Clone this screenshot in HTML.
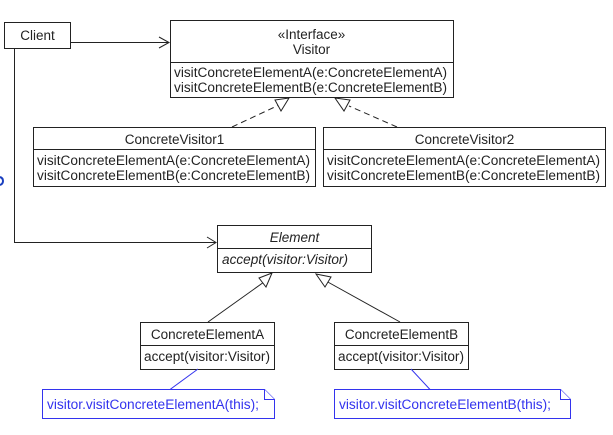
<!DOCTYPE html>
<html><head><meta charset="utf-8"><style>
html,body{margin:0;padding:0;background:#fff;width:613px;height:435px;overflow:hidden}
svg text{font-family:"Liberation Sans",sans-serif;font-size:13.5px;fill:#222}
</style></head><body>
<svg width="613" height="435" viewBox="0 0 613 435" xmlns="http://www.w3.org/2000/svg">
<g fill="#fff" stroke="#222" stroke-width="1">
<rect x="4.5" y="22.5" width="66" height="26"/>
<rect x="170.5" y="20.5" width="283" height="77"/>
<line x1="170" y1="62.5" x2="453" y2="62.5"/>
<rect x="33.5" y="127.5" width="282" height="59"/>
<line x1="33" y1="149.5" x2="315" y2="149.5"/>
<rect x="323.5" y="127.5" width="282" height="59"/>
<line x1="323" y1="149.5" x2="605" y2="149.5"/>
<rect x="217.5" y="225.5" width="154" height="47"/>
<line x1="217" y1="248.5" x2="371" y2="248.5"/>
<rect x="140.5" y="322.5" width="134" height="47"/>
<line x1="140" y1="345.5" x2="274" y2="345.5"/>
<rect x="334.5" y="322.5" width="134" height="47"/>
<line x1="334" y1="345.5" x2="468" y2="345.5"/>
</g>
<g fill="none" stroke="#222" stroke-width="1">
<polyline points="70,42.5 169,42.5"/>
<polyline points="159,37 169,42.5 159,48"/>
<polyline points="14.5,49 14.5,242.5 216,242.5"/>
<polyline points="207,237 216,242.5 207,248"/>
<line x1="232" y1="127" x2="279" y2="105" stroke-dasharray="6,4"/>
<polygon points="289,98 275,100 281,111" fill="#fff"/>
<line x1="397" y1="127" x2="349" y2="106" stroke-dasharray="6,4"/>
<polygon points="335,98 350,100 344,111" fill="#fff"/>
<line x1="208" y1="322" x2="264" y2="282"/>
<polygon points="272,273 259,278 266,287" fill="#fff"/>
<line x1="400" y1="322" x2="326" y2="281"/>
<polygon points="316,274 331,277 325,287" fill="#fff"/>
</g>
<g fill="#fff" stroke="#3333ee" stroke-width="1">
<line x1="198" y1="369" x2="170" y2="389.5"/>
<line x1="411" y1="369" x2="430" y2="389.5"/>
<polygon points="42.5,389.5 264.5,389.5 274.5,399.5 274.5,418.5 42.5,418.5"/>
<polyline points="264.5,389.5 264.5,399.5 274.5,399.5"/>
<polygon points="334.5,389.5 560.5,389.5 570.5,399.5 570.5,418.5 334.5,418.5"/>
<polyline points="560.5,389.5 560.5,399.5 570.5,399.5"/>
</g>
<path d="M0,177 Q3,178 3,181 Q3,184 0,185" fill="none" stroke="#1a3fbf" stroke-width="2"/>
<text x="37.5" y="40" text-anchor="middle">Client</text>
<text x="311.5" y="39" text-anchor="middle">«Interface»</text>
<text x="311.5" y="54" text-anchor="middle">Visitor</text>
<text x="174" y="77" textLength="273" lengthAdjust="spacingAndGlyphs">visitConcreteElementA(e:ConcreteElementA)</text>
<text x="174" y="92" textLength="273" lengthAdjust="spacingAndGlyphs">visitConcreteElementB(e:ConcreteElementB)</text>
<text x="174.5" y="144" text-anchor="middle">ConcreteVisitor1</text>
<text x="37" y="165" textLength="273" lengthAdjust="spacingAndGlyphs">visitConcreteElementA(e:ConcreteElementA)</text>
<text x="37" y="180" textLength="273" lengthAdjust="spacingAndGlyphs">visitConcreteElementB(e:ConcreteElementB)</text>
<text x="464.5" y="144" text-anchor="middle">ConcreteVisitor2</text>
<text x="327" y="165" textLength="273" lengthAdjust="spacingAndGlyphs">visitConcreteElementA(e:ConcreteElementA)</text>
<text x="327" y="180" textLength="273" lengthAdjust="spacingAndGlyphs">visitConcreteElementB(e:ConcreteElementB)</text>
<text x="294.5" y="242" text-anchor="middle" font-style="italic">Element</text>
<text x="222" y="264" font-style="italic" textLength="126" lengthAdjust="spacingAndGlyphs">accept(visitor:Visitor)</text>
<text x="207.5" y="339" text-anchor="middle">ConcreteElementA</text>
<text x="144" y="361" textLength="126" lengthAdjust="spacingAndGlyphs">accept(visitor:Visitor)</text>
<text x="401.5" y="339" text-anchor="middle">ConcreteElementB</text>
<text x="338" y="361" textLength="126" lengthAdjust="spacingAndGlyphs">accept(visitor:Visitor)</text>
<text x="47" y="409" style="fill:#3333ee" textLength="212" lengthAdjust="spacingAndGlyphs">visitor.visitConcreteElementA(this);</text>
<text x="339" y="409" style="fill:#3333ee" textLength="212" lengthAdjust="spacingAndGlyphs">visitor.visitConcreteElementB(this);</text>
</svg>
</body></html>
